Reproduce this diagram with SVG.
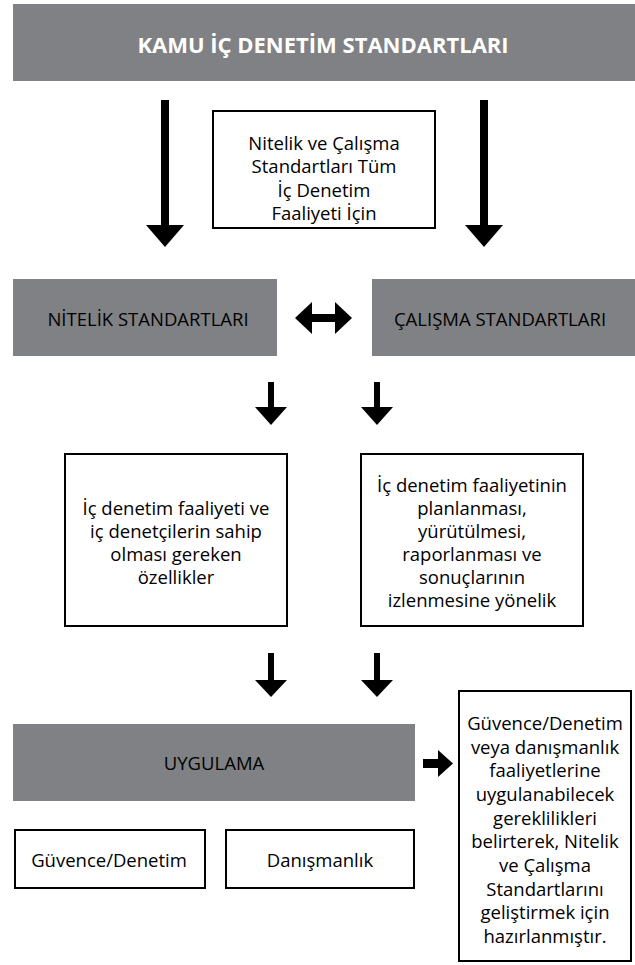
<svg xmlns="http://www.w3.org/2000/svg" width="635" height="965" viewBox="0 0 635 965">
<style>
.gray{fill:#808184}
.box{fill:#fff;stroke:#000;stroke-width:2}
text{font-family:"Open Sans","Liberation Sans",sans-serif;font-size:18.5px;fill:#000;text-anchor:middle}
.title{font-weight:bold;fill:#fff;font-size:22px}
.arr{fill:#000}
</style>
<rect width="635" height="965" fill="#fff"/>
<g id="kamu">
<rect class="gray" x="13" y="4" width="622" height="77"/>
<text class="title" x="323" y="53">KAMU İÇ DENETİM STANDARTLARI</text>
</g>
<g id="tum">
<rect class="box" x="213" y="111" width="222" height="117"/>
<text x="324" y="150">Nitelik ve Çalışma</text>
<text x="324" y="173.3">Standartları Tüm</text>
<text x="324" y="196.7">İç Denetim</text>
<text x="324" y="220">Faaliyeti İçin</text>
</g>
<g id="nitelik">
<rect class="gray" x="13" y="279" width="264" height="77"/>
<text x="148" y="326">NİTELİK STANDARTLARI</text>
</g>
<g id="calisma">
<rect class="gray" x="372" y="279" width="263" height="77"/>
<text x="500" y="326">ÇALIŞMA STANDARTLARI</text>
</g>
<g id="nitelik-aciklama">
<rect class="box" x="65" y="454" width="222" height="172"/>
<text x="176" y="515">İç denetim faaliyeti ve</text>
<text x="176" y="538">iç denetçilerin sahip</text>
<text x="176" y="561">olması gereken</text>
<text x="176" y="584">özellikler</text>
</g>
<g id="calisma-aciklama">
<rect class="box" x="361" y="454" width="222" height="172"/>
<text x="472" y="492">İç denetim faaliyetinin</text>
<text x="472" y="515">planlanması,</text>
<text x="472" y="538">yürütülmesi,</text>
<text x="472" y="561">raporlanması ve</text>
<text x="472" y="584">sonuçlarının</text>
<text x="472" y="607">izlenmesine yönelik</text>
</g>
<g id="uygulama">
<rect class="gray" x="13" y="724" width="402" height="77"/>
<text x="214" y="770">UYGULAMA</text>
</g>
<g id="guvence">
<rect class="box" x="15" y="830" width="190" height="58"/>
<text x="109" y="867">Güvence/Denetim</text>
</g>
<g id="danismanlik">
<rect class="box" x="226" y="830" width="188" height="58"/>
<text x="320" y="867">Danışmanlık</text>
</g>
<g id="uygulama-aciklama">
<rect class="box" x="459" y="691" width="172" height="270"/>
<text x="545" y="730">Güvence/Denetim</text>
<text x="545" y="753.7">veya danışmanlık</text>
<text x="545" y="777.3">faaliyetlerine</text>
<text x="545" y="801">uygulanabilecek</text>
<text x="545" y="824.7">gereklilikleri</text>
<text x="545" y="848.3">belirterek, Nitelik</text>
<text x="545" y="872">ve Çalışma</text>
<text x="545" y="895.7">Standartlarını</text>
<text x="545" y="919.3">geliştirmek için</text>
<text x="545" y="943">hazırlanmıştır.</text>
</g>
<g id="connectors">
<polygon class="arr" points="161,100 169,100 169,225 184,225 165,247 146,225 161,225"/>
<polygon class="arr" points="480,100 488,100 488,225 503,225 484,247 465,225 480,225"/>
<polygon class="arr" points="295,318 312,302 312,314 335,314 335,302 352,318 335,334 335,322 312,322 312,334"/>
<polygon class="arr" points="268,382 274,382 274,407 287,407 271,425 255,407 268,407"/>
<polygon class="arr" points="374,382 380,382 380,407 393,407 377,425 361,407 374,407"/>
<polygon class="arr" points="268,653 274,653 274,680 287,680 271,697 255,680 268,680"/>
<polygon class="arr" points="374,653 380,653 380,680 393,680 377,697 361,680 374,680"/>
<polygon class="arr" points="423,759 438,759 438,750 453,763.5 438,777 438,768 423,768"/>
</g>
</svg>
